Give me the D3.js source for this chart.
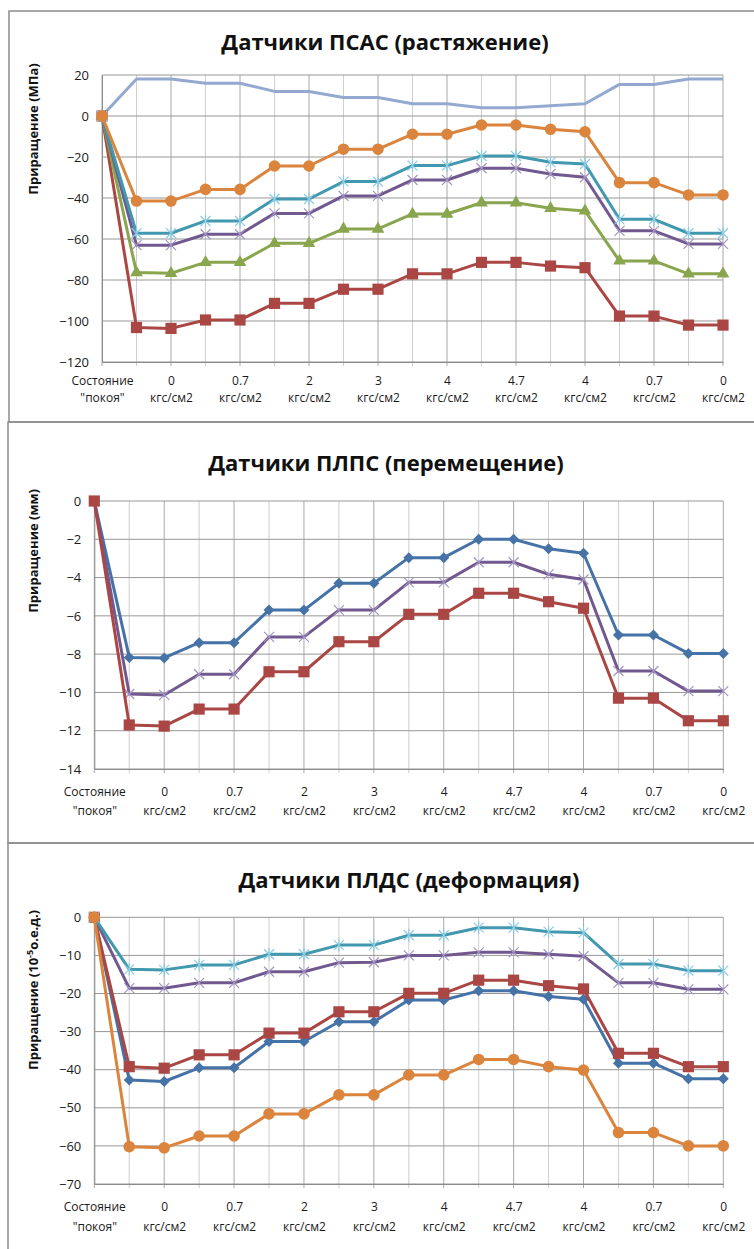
<!DOCTYPE html>
<html>
<head>
<meta charset="utf-8">
<script src="https://cdn.jsdelivr.net/npm/d3@7"></script>
<style>
  body { margin: 0; background: #fff; }
  svg { display: block; font-family: "Open Sans", sans-serif; }
</style>
</head>
<body>
<svg id="chart" width="754" height="1249"></svg>
<script>
// categories, only every second one gets a label ("|" = line break)
var categories = ["Состояние|\"покоя\"", "", "0|кгс/см2", "", "0.7|кгс/см2", "", "2|кгс/см2", "",
                  "3|кгс/см2", "", "4|кгс/см2", "", "4.7|кгс/см2", "", "4|кгс/см2", "",
                  "0.7|кгс/см2", "", "0|кгс/см2"];

// ПСАС (растяжение), МПа
var psasTicks = [20, 0, -20, -40, -60, -80, -100, -120];
var psasLightBlue = [0, 18, 18, 16, 16, 12, 12, 9, 9, 6, 6, 4, 4, 5, 6, 15.4, 15.4, 18, 18];
var psasRed = [0, -103.2, -103.6, -99.5, -99.5, -91.4, -91.4, -84.5, -84.5, -77, -77, -71.4, -71.4, -73.2, -74, -97.6, -97.6, -102, -102];
var psasGreen = [0, -76.4, -76.7, -71.4, -71.4, -62.1, -62.1, -55.1, -55.1, -47.8, -47.8, -42.3, -42.3, -45, -46.3, -70.7, -70.7, -77, -77];
var psasPurple = [0, -63, -63, -57.7, -57.7, -47.5, -47.5, -39, -39, -31.2, -31.2, -25.5, -25.5, -28.3, -29.9, -56, -56, -62.4, -62.4];
var psasAqua = [0, -57.2, -57.2, -51.2, -51.2, -40.5, -40.5, -32, -32, -24.2, -24.2, -19.5, -19.5, -22.6, -23.4, -50.4, -50.4, -57.2, -57.2];
var psasOrange = [0, -41.5, -41.5, -35.8, -35.8, -24.4, -24.4, -16.2, -16.2, -8.9, -8.9, -4.4, -4.4, -6.5, -7.7, -32.5, -32.5, -38.5, -38.5];

// ПЛПС (перемещение), мм
var plpsTicks = [0, -2, -4, -6, -8, -10, -12, -14];
var plpsBlue = [0, -8.17, -8.2, -7.4, -7.4, -5.7, -5.7, -4.3, -4.3, -2.96, -2.96, -2.0, -2.0, -2.5, -2.73, -7.0, -7.0, -7.96, -7.96];
var plpsPurple = [0, -10.08, -10.13, -9.05, -9.05, -7.1, -7.1, -5.7, -5.7, -4.25, -4.25, -3.2, -3.2, -3.83, -4.1, -8.88, -8.88, -9.93, -9.93];
var plpsRed = [0, -11.7, -11.76, -10.87, -10.87, -8.92, -8.92, -7.35, -7.35, -5.92, -5.92, -4.82, -4.82, -5.26, -5.6, -10.3, -10.3, -11.48, -11.48];

// ПЛДС (деформация), 10^-5 о.е.д.
var pldsTicks = [0, -10, -20, -30, -40, -50, -60, -70];
var pldsBlue = [0, -42.7, -43.1, -39.5, -39.5, -32.6, -32.6, -27.4, -27.4, -21.7, -21.7, -19.3, -19.3, -20.8, -21.5, -38.3, -38.3, -42.4, -42.4];
var pldsRed = [0, -39.2, -39.6, -36.1, -36.1, -30.4, -30.4, -24.8, -24.8, -19.95, -19.95, -16.5, -16.5, -17.95, -18.8, -35.7, -35.7, -39.2, -39.2];
var pldsPurple = [0, -18.6, -18.6, -17.2, -17.2, -14.3, -14.3, -11.9, -11.8, -10.0, -10.0, -9.2, -9.2, -9.7, -10.2, -17.2, -17.2, -18.9, -18.9];
var pldsAqua = [0, -13.65, -13.8, -12.5, -12.5, -9.7, -9.7, -7.3, -7.3, -4.72, -4.72, -2.72, -2.72, -3.77, -4.04, -12.26, -12.26, -14.0, -14.0];
var pldsOrange = [0, -60.2, -60.5, -57.4, -57.4, -51.6, -51.6, -46.6, -46.6, -41.4, -41.4, -37.3, -37.3, -39.2, -40.1, -56.5, -56.5, -60.0, -60.0];

// excel-like styles
var styles = {
  lightblue: { color: "#93A9CF", marker: null },
  blue:   { color: "#4572A7", marker: "diamond" },
  red:    { color: "#AA4643", marker: "square" },
  green:  { color: "#89A54E", marker: "triangle" },
  purple: { color: "#71588F", marker: "x", markColor: "#a294c4" },
  aqua:   { color: "#4198AF", marker: "star", markColor: "#8ccbe0" },
  orange: { color: "#DB843D", marker: "circle" }
};

var panels = [
  { title: "Датчики ПСАС (растяжение)", titleX: 385, titleY: 50,
    yTitle: ["Приращение (МПа)"], yTitleY: 129,
    frame: [9, 11, 411], left: 102, right: 723, top: 75, bottom: 362,
    labelDy: 23, labelGap: 17, ticks: psasTicks,
    series: [[psasLightBlue, "lightblue"], [psasRed, "red"], [psasGreen, "green"], [psasPurple, "purple"], [psasAqua, "aqua"], [psasOrange, "orange"]] },
  { title: "Датчики ПЛПС (перемещение)", titleX: 386, titleY: 471,
    yTitle: ["Приращение (мм)"], yTitleY: 551,
    frame: [8, 422, 421], left: 94.3, right: 723.3, top: 501, bottom: 769,
    labelDy: 27, labelGap: 18.5, ticks: plpsTicks,
    series: [[plpsBlue, "blue"], [plpsPurple, "purple"], [plpsRed, "red"]] },
  { title: "Датчики ПЛДС (деформация)", titleX: 409, titleY: 888,
    yTitle: ["Приращение (10", "-5", "о.е.д.)"], yTitleY: 990,
    frame: [8, 843, 430], left: 94.3, right: 723.3, top: 917.3, bottom: 1184,
    labelDy: 27, labelGap: 20, ticks: pldsTicks,
    series: [[pldsBlue, "blue"], [pldsRed, "red"], [pldsPurple, "purple"], [pldsAqua, "aqua"], [pldsOrange, "orange"]] }
];

var svg = d3.select("#chart");

function markerPath(type) {
  if (type == "x") return "M-5,-5L5,5M-5,5L5,-5";
  if (type == "star") return "M-5,-5L5,5M-5,5L5,-5M0,-6.5L0,6.5";
  if (type == "diamond") return "M0,-5.5L5.5,0L0,5.5L-5.5,0Z";
  if (type == "square") return d3.symbol().type(d3.symbolSquare).size(125)();
  if (type == "triangle") return d3.symbol().type(d3.symbolTriangle).size(70)();
  return d3.symbol().type(d3.symbolCircle).size(105)();
}

function drawPanel(p) {
  var g = svg.append("g");

  g.append("rect")
    .attr("x", p.frame[0]).attr("y", p.frame[1])
    .attr("width", 800).attr("height", p.frame[2])
    .attr("fill", "none").attr("stroke", "#8c8c8c").attr("stroke-width", 1.5);

  var x = d3.scalePoint().domain(d3.range(categories.length)).range([p.left, p.right]);
  var y = d3.scaleLinear().domain([p.ticks[p.ticks.length - 1], p.ticks[0]]).range([p.bottom, p.top]);

  // grid
  g.append("g").selectAll("line").data(d3.range(categories.length)).enter().append("line")
    .attr("x1", x).attr("x2", x).attr("y1", p.top).attr("y2", p.bottom + 4)
    .attr("stroke", function(d) { return d % 2 ? "#cfcfcf" : "#a8a8a8"; });
  g.append("g").selectAll("line").data(p.ticks).enter().append("line")
    .attr("x1", p.left).attr("x2", p.right).attr("y1", y).attr("y2", y)
    .attr("stroke", "#979797");

  // y axis
  var ya = g.append("g").attr("transform", "translate(" + p.left + ",0)")
    .call(d3.axisLeft(y).tickValues(p.ticks).tickSize(0).tickPadding(13));
  ya.select(".domain").attr("stroke", "#8c8c8c");
  ya.selectAll("text").attr("font-size", 13).attr("fill", "#1a1a1a")
    .attr("font-family", "'Open Sans', sans-serif");

  // x axis with two line labels
  var xa = g.append("g").attr("transform", "translate(0," + p.bottom + ")")
    .call(d3.axisBottom(x).tickValues(d3.range(0, categories.length, 2)).tickSize(0).tickFormat(""));
  xa.select(".domain").attr("stroke", "#8c8c8c");
  xa.selectAll(".tick text")
    .attr("y", p.labelDy).attr("dy", "0.35em")
    .attr("font-size", 12).attr("fill", "#1a1a1a")
    .attr("font-family", "'Open Sans', sans-serif")
    .each(function(d) {
      var parts = categories[d].split("|");
      d3.select(this).selectAll("tspan").data(parts).enter().append("tspan")
        .attr("x", 0)
        .attr("dy", function(t, i) { return i ? p.labelGap : 0; })
        .text(function(t) { return t; });
    });

  // series
  p.series.forEach(function(s) {
    var vals = s[0], st = styles[s[1]];
    var line = d3.line().x(function(d, i) { return x(i); }).y(function(d) { return y(d); });
    g.append("path").datum(vals)
      .attr("d", line)
      .attr("fill", "none").attr("stroke", st.color)
      .attr("stroke-width", 3).attr("stroke-linejoin", "round");
    if (st.marker) {
      var lineMark = st.marker == "x" || st.marker == "star";
      g.append("g").selectAll("path").data(vals).enter().append("path")
        .attr("transform", function(d, i) { return "translate(" + x(i) + "," + y(d) + ")"; })
        .attr("d", markerPath(st.marker))
        .attr("fill", lineMark ? "none" : st.color)
        .attr("stroke", lineMark ? st.markColor : "none")
        .attr("stroke-width", 1.2);
    }
  });

  // titles
  g.append("text")
    .attr("x", p.titleX).attr("y", p.titleY)
    .attr("text-anchor", "middle")
    .attr("font-size", 22).attr("font-weight", "bold").attr("fill", "#111")
    .text(p.title);

  var yt = g.append("text")
    .attr("transform", "translate(33," + p.yTitleY + ") rotate(-90)")
    .attr("text-anchor", "middle").attr("dy", "0.35em")
    .attr("font-size", 13).attr("font-weight", "bold").attr("fill", "#111");
  yt.append("tspan").text(p.yTitle[0]);
  if (p.yTitle.length > 1) {
    yt.append("tspan").attr("font-size", 9).attr("dy", -5).text(p.yTitle[1]);
    yt.append("tspan").attr("dy", 5).text(p.yTitle[2]);
  }
}

panels.forEach(drawPanel);
</script>
</body>
</html>
